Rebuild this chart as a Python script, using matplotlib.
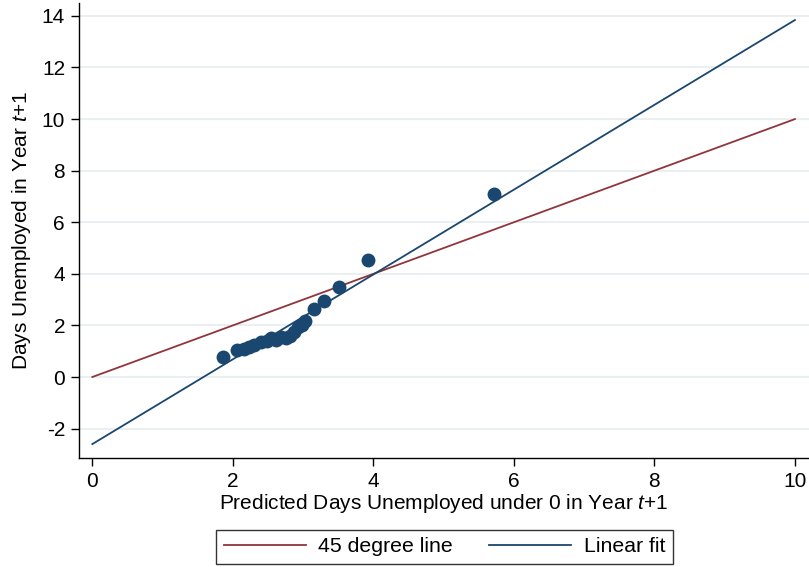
import matplotlib
matplotlib.use("Agg")
import matplotlib.pyplot as plt
import numpy as np

# Binned scatter data
x_pred = [1.86, 2.06, 2.16, 2.23, 2.30, 2.40, 2.49, 2.54, 2.61, 2.68, 2.76, 2.81,
          2.87, 2.93, 2.98, 3.03, 3.15, 3.29, 3.51, 3.92, 5.72]
y_actual = [0.77, 1.03, 1.08, 1.15, 1.24, 1.37, 1.40, 1.50, 1.43, 1.56, 1.52, 1.59,
            1.76, 1.92, 2.01, 2.18, 2.62, 2.95, 3.48, 4.53, 7.09]

line_x = [0, 10]
deg45_y = [0, 10]
fit_y = [-2.6, 13.84]

xticks = [0, 2, 4, 6, 8, 10]
yticks = [-2, 0, 2, 4, 6, 8, 10, 12, 14]

navy = "#1a476f"
maroon = "#90353b"
grid_c = "#e6edf0"

plt.rcParams['font.family'] = ['Liberation Sans', 'DejaVu Sans']
plt.rcParams['axes.unicode_minus'] = False
plt.rcParams['mathtext.fontset'] = 'custom'
plt.rcParams['mathtext.rm'] = 'Liberation Sans'
plt.rcParams['mathtext.it'] = 'Liberation Sans:italic'

fig = plt.figure(figsize=(8.09, 5.67), dpi=100)
ax = fig.add_axes([79/809, 1-458/567, 1-79/809, (458-3)/567])

for yt in yticks:
    ax.axhline(yt, color=grid_c, lw=1.2, zorder=0)

ax.scatter(x_pred, y_actual, s=100, color=navy, zorder=3, linewidths=0)
ax.plot(line_x, deg45_y, color=maroon, lw=1.3, label="45 degree line", zorder=2)
ax.plot(line_x, fit_y, color=navy, lw=1.3, label="Linear fit", zorder=2)

ax.set_xlim(-0.19, 10.2)
ax.set_ylim(-3.14, 14.5)
ax.set_xticks(xticks)
ax.set_yticks(yticks)
ax.tick_params(axis='both', direction='out', length=6, width=1, labelsize=15, pad=4)
for s in ['top', 'right']:
    ax.spines[s].set_visible(False)
for s in ['left', 'bottom']:
    ax.spines[s].set_linewidth(1.0)

ax.set_xlabel("Predicted Days Unemployed under 0 in Year $\\mathit{t{+}1}$", fontsize=15, labelpad=1)
ax.set_ylabel("Days Unemployed in Year $\\mathit{t{+}1}$", fontsize=15, labelpad=6)

leg = fig.legend(loc='center', bbox_to_anchor=(444.5/809, 1-547/567), ncol=2,
                 fontsize=15.3, frameon=True, fancybox=False, edgecolor='black',
                 handlelength=3.85, handletextpad=0.6, columnspacing=1.7,
                 borderpad=0.35)
leg.get_frame().set_linewidth(1.0)

fig.savefig("out.png", dpi=100, facecolor='white')
